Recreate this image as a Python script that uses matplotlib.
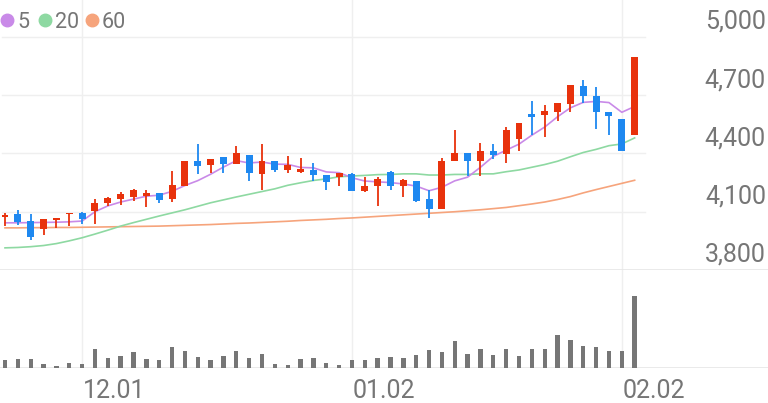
import matplotlib
matplotlib.use("Agg")
import matplotlib.pyplot as plt
from matplotlib.lines import Line2D

plt.rcParams['font.family'] = ['Roboto', 'DejaVu Sans']

# 일봉 데이터
opens = [4074, 4089, 4051, 4012, 4055, 4086, 4091, 4103, 4146, 4168,
         4174, 4180, 4194, 4163, 4231, 4363, 4339, 4382, 4346, 4390,
         4296, 4359, 4317, 4305, 4317, 4291, 4277, 4296, 4209, 4231,
         4303, 4235, 4257, 4166, 4115, 4359, 4402, 4359, 4411, 4399,
         4476, 4604, 4596, 4616, 4654, 4745, 4698, 4616, 4579, 4497]
highs = [4091, 4108, 4086, 4060, 4069, 4094, 4097, 4166, 4177, 4200,
         4218, 4214, 4197, 4312, 4363, 4450, 4372, 4382, 4440, 4390,
         4450, 4363, 4385, 4377, 4351, 4291, 4300, 4300, 4279, 4279,
         4308, 4271, 4257, 4214, 4377, 4522, 4402, 4454, 4450, 4536,
         4557, 4671, 4651, 4659, 4750, 4779, 4742, 4616, 4579, 4899]
lows = [4029, 4034, 3954, 3978, 4017, 4026, 4038, 4039, 4132, 4137,
        4154, 4125, 4146, 4149, 4231, 4295, 4300, 4300, 4346, 4260,
        4210, 4303, 4300, 4300, 4257, 4210, 4231, 4205, 4200, 4132,
        4210, 4177, 4149, 4069, 4115, 4359, 4282, 4282, 4373, 4351,
        4411, 4493, 4485, 4565, 4616, 4659, 4526, 4497, 4411, 4497]
closes = [4082, 4046, 3971, 4060, 4069, 4094, 4064, 4146, 4171, 4192,
          4210, 4194, 4158, 4236, 4363, 4334, 4372, 4346, 4402, 4300,
          4359, 4317, 4342, 4320, 4291, 4254, 4300, 4209, 4235, 4271,
          4235, 4265, 4154, 4115, 4359, 4402, 4359, 4411, 4394, 4519,
          4557, 4587, 4621, 4659, 4750, 4697, 4613, 4591, 4411, 4899]
volumes = [83, 93, 90, 43, 17, 50, 43, 190, 100, 117,
           157, 90, 83, 210, 170, 110, 77, 120, 173, 100,
           143, 43, 33, 93, 100, 50, 33, 77, 83, 97,
           107, 97, 133, 183, 157, 270, 143, 193, 127, 193,
           123, 193, 193, 330, 283, 223, 210, 173, 173, 723]

# 이동평균선
ma5 = [4043, 4043, 4044, 4045, 4046, 4048, 4052, 4100, 4130, 4150,
       4165, 4180, 4185, 4205, 4235, 4260, 4293, 4330, 4363, 4351,
       4356, 4345, 4344, 4328, 4326, 4305, 4301, 4275, 4258, 4254,
       4250, 4243, 4232, 4208, 4226, 4259, 4278, 4329, 4385, 4417,
       4448, 4494, 4536, 4589, 4635, 4663, 4668, 4662, 4612, 4642]
ma20 = [3914, 3916, 3920, 3926, 3936, 3950, 3966, 3985, 4005, 4026,
        4044, 4061, 4078, 4094, 4110, 4128, 4146, 4161, 4176, 4190,
        4204, 4218, 4236, 4249, 4261, 4269, 4280, 4284, 4287, 4291,
        4292, 4295, 4295, 4289, 4289, 4292, 4292, 4295, 4295, 4306,
        4315, 4329, 4343, 4360, 4383, 4405, 4421, 4440, 4449, 4480]
ma60 = [4017, 4017, 4018, 4018, 4019, 4019, 4020, 4021, 4022, 4023,
        4024, 4025, 4026, 4028, 4030, 4032, 4034, 4037, 4040, 4042,
        4045, 4048, 4051, 4055, 4058, 4061, 4065, 4068, 4072, 4076,
        4080, 4084, 4088, 4092, 4096, 4100, 4105, 4110, 4116, 4122,
        4131, 4140, 4150, 4163, 4178, 4197, 4214, 4230, 4246, 4262]

tick_idx = [6, 27, 48]
tick_labels = ["12.01", "01.02", "02.02"]
price_ticks = [3800, 4100, 4400, 4700, 5000]
ma_labels = ["5", "20", "60"]
ma_colors = ["#c98ae8", "#8ed9a2", "#f6a47c"]

up_col = "#e8320c"
down_col = "#1e88f0"
grid_col = "#efefef"
text_col = "#767676"

W, H = 768, 403
fig = plt.figure(figsize=(W / 100, H / 100), dpi=100)
ax = fig.add_axes([0, 1 - 270 / H, 1, 270 / H])
axv = fig.add_axes([0, 1 - 368 / H, 1, 98 / H])

step = 12.85
xlim = (-5 / step, (W - 5) / step)
x = list(range(len(closes)))

for a in (ax, axv):
    a.set_xlim(*xlim)
    a.axis("off")
    for i in tick_idx:
        a.axvline(i, color=grid_col, lw=1, zorder=0)

ax.set_ylim(3800, 5000 + 37 * 300 / 58.4)
axv.set_ylim(0, 980)

# 가격 격자선
for v in price_ticks[1:]:
    ax.axhline(v, xmin=0.003, xmax=645 / W, color=grid_col, lw=1, zorder=0)
ax.axhline(3800, color="#e6e6e6", lw=1.2, zorder=0)
axv.axhline(0, color="#e6e6e6", lw=1.2, zorder=0)

# 이동평균선
for vals, c in zip([ma60, ma20, ma5], ma_colors[::-1]):
    ax.plot(x, vals, color=c, lw=1.2, zorder=1)

# 캔들
colors = [up_col if c >= o else down_col for o, c in zip(opens, closes)]
bottoms = [min(o, c) for o, c in zip(opens, closes)]
heights = [max(abs(c - o), 8) for o, c in zip(opens, closes)]
ax.vlines(x, lows, highs, colors=colors, lw=1.3, zorder=2)
ax.bar(x, heights, bottom=bottoms, width=0.54, color=colors, zorder=3)

# 거래량
axv.bar(x, volumes, width=0.34, color="#767676", zorder=2)

# 축 라벨
for v in price_ticks:
    ax.annotate(f"{v:,}", xy=(1, v), xycoords=("axes fraction", "data"),
                xytext=(-1.5, 5.8), textcoords="offset points",
                ha="right", va="baseline", fontsize=18, color=text_col)
for i, lab in zip(tick_idx, tick_labels):
    axv.annotate(lab, xy=(i, 0), xycoords=("data", "axes fraction"),
                 xytext=(0.5, -21.6), textcoords="offset points",
                 ha="left", va="baseline", fontsize=18, color=text_col)

# 범례 (좌상단)
legend_x = [7, 45, 92]
for px, lab, c in zip(legend_x, ma_labels, ma_colors):
    fig.add_artist(Line2D([px / W], [1 - 20 / H], marker="o", ls="none",
                          color=c, markersize=9, transform=fig.transFigure))
    fig.text((px + 10) / W, 1 - 28 / H, lab, fontsize=15.5, color=text_col,
             ha="left", va="baseline")

fig.savefig("out.png", dpi=100)
